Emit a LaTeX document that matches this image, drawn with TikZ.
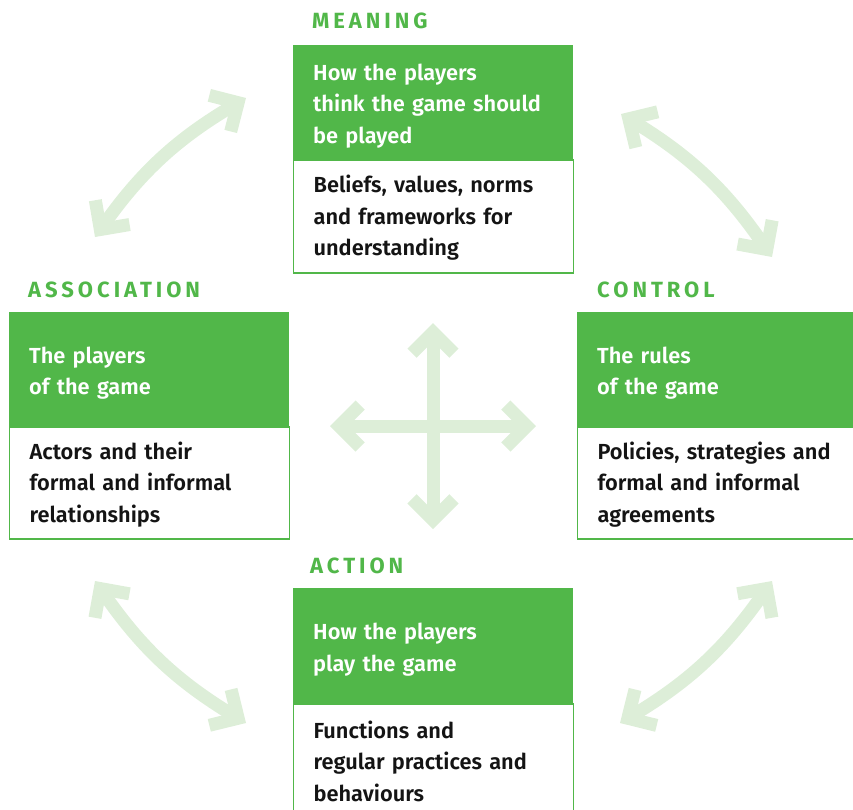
\documentclass[tikz,border=0pt]{standalone}
\usepackage{fontspec}
\setmainfont{Fira Sans SemiBold}[BoldFont={Fira Sans Bold}]
\newfontfamily\titlefont{Fira Sans Bold}[LetterSpace=18]
\usetikzlibrary{arrows.meta}
\definecolor{framegreen}{RGB}{81,183,73}
\definecolor{linkgreen}{RGB}{221,238,216}
\newcommand\boxfont{\fontsize{21.8pt}{31.5pt}\selectfont}
\tikzset{
  headbox/.style={fill=framegreen, text=white, text width=240pt, inner xsep=20pt,
    inner ysep=0pt, minimum height=114pt, align=left, anchor=north west, font=\boxfont,
    execute at begin node={\rule{0pt}{24pt}}},
  bodybox/.style={draw=framegreen, line width=1.2pt, fill=white, text=black!92,
    text width=240pt, inner xsep=20pt, inner ysep=0pt, minimum height=113pt,
    align=left, anchor=north west, font=\boxfont,
    execute at begin node={\rule{0pt}{20pt}}},
  heading/.style={text=framegreen, font=\titlefont\fontsize{22pt}{24pt}\selectfont,
    anchor=base west, inner sep=0pt},
  barb/.tip={Straight Barb[length=21pt, width=42pt]},
  link/.style={draw=linkgreen, line width=13pt, barb-barb},
}

\begin{document}
\begin{tikzpicture}[x=1pt,y=-1pt]
  \useasboundingbox (0,0) rectangle (853,809);
  \clip (0,0) rectangle (853,809);
  % links round the boxes
  \coordinate (assoc-mean) at (95,237);
  \coordinate (mean-assoc) at (246,98);
  \coordinate (mean-ctrl) at (621,114);
  \coordinate (ctrl-mean) at (772,257);
  \coordinate (assoc-act) at (95,581);
  \coordinate (act-assoc) at (246,723);
  \coordinate (act-ctrl) at (620,723);
  \coordinate (ctrl-act) at (772,581);
  \draw[link] (assoc-mean) to[bend left=12] (mean-assoc);
  \draw[link] (mean-ctrl) to[bend left=12] (ctrl-mean);
  \draw[link] (assoc-act) to[bend right=12] (act-assoc);
  \draw[link] (act-ctrl) to[bend right=12] (ctrl-act);
  % cross in the middle
  \coordinate (cross-n) at (433,323);
  \coordinate (cross-s) at (433,529);
  \coordinate (cross-w) at (330,426);
  \coordinate (cross-e) at (536,426);
  \draw[link] (cross-n) -- (cross-s);
  \draw[link] (cross-w) -- (cross-e);
  % meaning
  \node[heading] (meaning-t) at (312,28) {MEANING};
  \node[headbox] (meaning) at (293,45) {How the players\\think the game should\\be played};
  \node[bodybox] (meaning-b) at (meaning.south west) {Beliefs, values, norms\\and frameworks for\\understanding};
  % association
  \node[heading] (assoc-t) at (28,297) {ASSOCIATION};
  \node[headbox] (assoc) at (9,312) {The players\\of the game};
  \node[bodybox, minimum height=112pt] (assoc-b) at (assoc.south west) {Actors and their\\formal and informal\\relationships};
  % control
  \node[heading] (ctrl-t) at (597,297) {CONTROL};
  \node[headbox] (ctrl) at (577,312) {The rules\\of the game};
  \node[bodybox, minimum height=112pt] (ctrl-b) at (ctrl.south west) {Policies, strategies and\\formal and informal\\agreements};
  % action
  \node[heading] (act-t) at (310,573) {ACTION};
  \node[headbox, minimum height=115pt] (act) at (293,588) {How the players\\play the game};
  \node[bodybox, minimum height=112pt] (act-b) at (act.south west) {Functions and\\regular practices and\\behaviours};
\end{tikzpicture}
\end{document}
